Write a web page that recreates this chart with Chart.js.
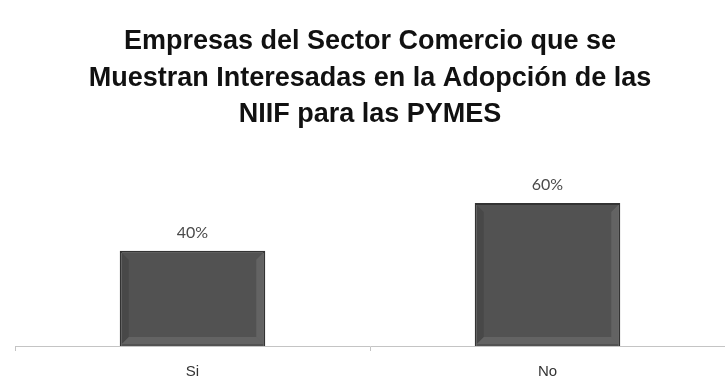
<!DOCTYPE html>
<html>
<head>
<meta charset="utf-8">
<script src="https://cdn.jsdelivr.net/npm/chart.js@4/dist/chart.umd.min.js"></script>
<style>
  html, body { margin: 0; padding: 0; background: #fff; }
  #wrap { width: 725px; height: 379px; }
</style>
</head>
<body>
<div id="wrap"><canvas id="chart" width="725" height="379"></canvas></div>
<script>
const categories = ['Si', 'No'];
const values = [40, 60];
const titleLines = [
    'Empresas del Sector Comercio que se',
    'Muestran Interesadas en la Adopción de las',
    'NIIF para las PYMES'
];

// percentage labels above each bar
const valueLabels = {
    id: 'valueLabels',
    afterDatasetsDraw(chart) {
        const { ctx } = chart;
        const meta = chart.getDatasetMeta(0);
        ctx.save();
        ctx.font = '16px Lato, "DejaVu Sans", sans-serif';
        ctx.fillStyle = '#4a4a4a';
        ctx.textAlign = 'center';
        ctx.textBaseline = 'middle';
        meta.data.forEach((bar, i) => {
            ctx.fillText(values[i] + '%', bar.x, bar.y - 18);
        });
        ctx.restore();
    }
};

// light bevel on the bar edges
const bevel = {
    id: 'bevel',
    afterDatasetsDraw(chart) {
        const { ctx } = chart;
        chart.getDatasetMeta(0).data.forEach(bar => {
            const l = bar.x - bar.width / 2, r = bar.x + bar.width / 2;
            const t = bar.y, b = bar.base;
            const d = 7;
            ctx.save();
            ctx.fillStyle = 'rgba(255,255,255,0.10)';
            ctx.beginPath();
            ctx.moveTo(r - 2, t + 2); ctx.lineTo(r - 2, b - 2);
            ctx.lineTo(r - 2 - d, b - 2 - d); ctx.lineTo(r - 2 - d, t + 2 + d);
            ctx.closePath(); ctx.fill();
            ctx.beginPath();
            ctx.moveTo(l + 2, b - 2); ctx.lineTo(r - 2, b - 2);
            ctx.lineTo(r - 2 - d, b - 2 - d); ctx.lineTo(l + 2 + d, b - 2 - d);
            ctx.closePath(); ctx.fill();
            ctx.fillStyle = 'rgba(0,0,0,0.12)';
            ctx.beginPath();
            ctx.moveTo(l + 2, t + 2); ctx.lineTo(l + 2, b - 2);
            ctx.lineTo(l + 2 + d, b - 2 - d); ctx.lineTo(l + 2 + d, t + 2 + d);
            ctx.closePath(); ctx.fill();
            ctx.restore();
        });
    }
};

new Chart(document.getElementById('chart'), {
    type: 'bar',
    data: {
        labels: categories,
        datasets: [{
            data: values,
            backgroundColor: '#525252',
            borderColor: '#333333',
            borderWidth: 2,
            categoryPercentage: 1,
            barPercentage: 0.41
        }]
    },
    options: {
        responsive: false,
        animation: false,
        layout: { padding: { left: 15, right: 0, top: 0, bottom: 0 } },
        plugins: {
            legend: { display: false },
            tooltip: { enabled: false },
            title: {
                display: true,
                text: titleLines,
                color: '#111',
                font: { family: '"Liberation Sans Narrow", "Arial Narrow", "Liberation Sans", sans-serif', size: 27, weight: 'bold', lineHeight: 1.36 },
                padding: { top: 23, bottom: 46 }
            }
        },
        scales: {
            x: {
                afterFit(scale) { scale.height = 33; },
                grid: { display: true, drawOnChartArea: false, color: '#c4c4c4', tickLength: 5, offset: true },
                border: { display: true, color: '#c4c4c4', width: 1 },
                ticks: { color: '#333', font: { family: '"Liberation Sans Narrow", "Liberation Sans", sans-serif', size: 15 }, padding: 12 }
            },
            y: {
                display: false,
                min: 0,
                max: 70
            }
        }
    },
    plugins: [bevel, valueLabels]
});
</script>
</body>
</html>
